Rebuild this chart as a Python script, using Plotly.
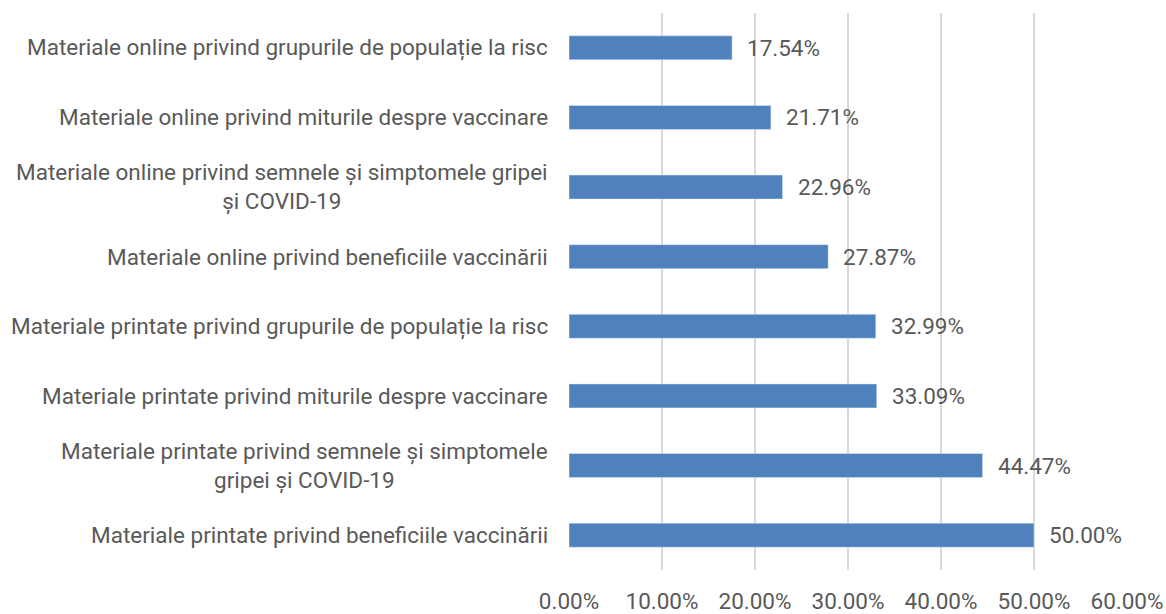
import plotly.graph_objects as go

# categories from bottom to top
categories = [
    "Materiale printate privind beneficiile vaccinării",
    "Materiale printate privind semnele și simptomele<br>gripei și COVID-19",
    "Materiale printate privind miturile despre vaccinare",
    "Materiale printate privind grupurile de populație la risc",
    "Materiale online privind beneficiile vaccinării",
    "Materiale online privind semnele și simptomele gripei<br>și COVID-19",
    "Materiale online privind miturile despre vaccinare",
    "Materiale online privind grupurile de populație la risc",
]
values = [0.5000, 0.4447, 0.3309, 0.3299, 0.2787, 0.2296, 0.2171, 0.1754]
tick_vals = [0, 0.1, 0.2, 0.3, 0.4, 0.5, 0.6]

FONT = "Roboto, Open Sans, sans-serif"
TXT = "#595959"
BAR = "#4f81bd"
FS = 22.5

fig = go.Figure(go.Bar(
    y=list(range(len(categories))),
    x=values,
    orientation="h",
    marker=dict(color=BAR),
    width=0.345,
    hoverinfo="x",
))

# category labels (centered multi-line, right-anchored)
for i, cat in enumerate(categories):
    fig.add_annotation(
        x=0, y=i, xref="paper", yref="y",
        text=cat, showarrow=False,
        xanchor="right", yanchor="middle", align="center",
        xshift=-19,
        font=dict(family=FONT, size=FS, color=TXT),
    )

# value labels
for i, v in enumerate(values):
    fig.add_annotation(
        x=v, y=i, xref="x", yref="y",
        text=f"{v * 100:.2f}%", showarrow=False,
        xanchor="left", yanchor="middle",
        xshift=13,
        font=dict(family=FONT, size=FS, color=TXT),
    )

fig.update_layout(
    width=1166,
    height=614,
    margin=dict(l=569, r=39, t=13, b=44, autoexpand=False),
    plot_bgcolor="white",
    paper_bgcolor="white",
    showlegend=False,
    font=dict(family=FONT, size=FS, color=TXT),
    xaxis=dict(
        range=[0, 0.6],
        tickvals=tick_vals,
        tickformat=".2%",
        showgrid=True,
        gridcolor="#d9d9d9",
        gridwidth=1.5,
        zeroline=False,
        showline=False,
        ticks="outside",
        ticklen=11,
        tickcolor="rgba(0,0,0,0)",
        automargin=False,
        tickfont=dict(family=FONT, size=FS, color=TXT),
        fixedrange=True,
    ),
    yaxis=dict(
        range=[-0.5, len(categories) - 0.5],
        showticklabels=False,
        showgrid=False,
        zeroline=False,
        showline=False,
        ticks="",
        automargin=False,
        fixedrange=True,
    ),
)

fig.write_html(
    "out.html",
    config={"displayModeBar": False},
    post_script="document.body.style.margin='0';",
)
